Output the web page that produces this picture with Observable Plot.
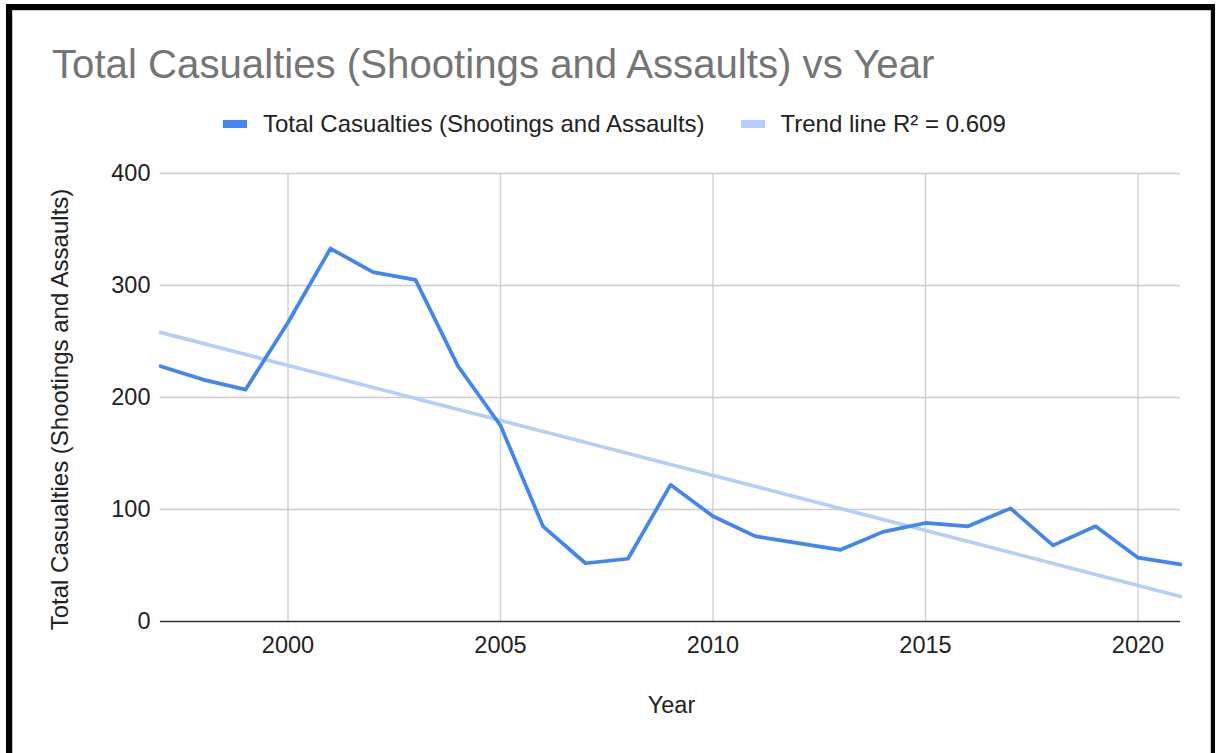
<!DOCTYPE html>
<html>
<head>
<meta charset="utf-8">
<script src="https://cdn.jsdelivr.net/npm/d3@7"></script>
<script src="https://cdn.jsdelivr.net/npm/@observablehq/plot@0.6"></script>
<style>
  html, body { margin: 0; padding: 0; background: #fff; overflow: hidden; }
  #page { position: relative; width: 1219px; height: 753px; font-family: "Liberation Sans", Arial, sans-serif; }
  #frame {
    position: absolute; left: 6px; top: 4px; width: 1209px; height: 760px;
    box-sizing: border-box;
    border-top: 6px solid #000; border-left: 6px solid #000; border-right: 4px solid #000;
    box-shadow: inset 1px 1px 0 #c8c8c8, inset -1px 0 0 #c8c8c8;
  }
  #title { position: absolute; left: 52px; top: 45px; font-size: 40.2px; line-height: 1; color: #757575; white-space: nowrap; }
  .sw { position: absolute; width: 24px; height: 8px; top: 120px; }
  .lt { position: absolute; top: 111.5px; font-size: 24px; line-height: 1; color: #222; white-space: nowrap; }
  #chart { position: absolute; left: 0; top: 150px; }
</style>
</head>
<body>
<div id="page">
  <div id="frame"></div>
  <div id="title"></div>
  <div id="legend"></div>
  <div id="chart"></div>
</div>
<script>
// Yearly totals of casualties from shootings and assaults
const years = [1997, 1998, 1999, 2000, 2001, 2002, 2003, 2004, 2005, 2006, 2007, 2008, 2009,
               2010, 2011, 2012, 2013, 2014, 2015, 2016, 2017, 2018, 2019, 2020, 2021];
const casualties = [228, 216, 207, 267, 333, 312, 305, 228, 175, 85, 52, 56, 122,
                    94, 76, 70, 64, 80, 88, 85, 101, 68, 85, 57, 51];
const xTicks = [2000, 2005, 2010, 2015, 2020];
const yTicks = [0, 100, 200, 300, 400];
const seriesName = "Total Casualties (Shootings and Assaults)";
const rSquared = 0.609;
const titleText = "Total Casualties (Shootings and Assaults) vs Year";
const xLabel = "Year";

const lineColor = "#4285f4";
const trendColor = "#b3cefb";

const data = years.map((year, i) => ({year, value: casualties[i]}));

document.getElementById("title").textContent = titleText;

// Legend
const legend = document.getElementById("legend");
const legendItems = [
  {swatchX: 222.7, textX: 263, color: lineColor, label: seriesName},
  {swatchX: 740.5, textX: 780.5, color: trendColor, label: `Trend line R² = ${rSquared}`}
];
for (const item of legendItems) {
  const sw = document.createElement("div");
  sw.className = "sw";
  sw.style.left = item.swatchX + "px";
  sw.style.background = item.color;
  legend.appendChild(sw);
  const t = document.createElement("div");
  t.className = "lt";
  t.style.left = item.textX + "px";
  t.textContent = item.label;
  legend.appendChild(t);
}

const chart = Plot.plot({
  width: 1219,
  height: 600,
  marginLeft: 160,
  marginRight: 39,
  marginTop: 23,
  marginBottom: 129,
  style: {fontFamily: "'Liberation Sans', Arial, sans-serif", fontSize: "23.5px", color: "#222", background: "transparent"},
  x: {domain: [1997, 2021]},
  y: {domain: [0, 400]},
  marks: [
    Plot.gridX(xTicks, {stroke: "#cccccc", strokeOpacity: 1, strokeWidth: 1.3}),
    Plot.gridY(yTicks.filter(d => d > 0), {stroke: "#cccccc", strokeOpacity: 1, strokeWidth: 1.3}),
    Plot.axisX(xTicks, {tickSize: 0, tickPadding: 15, tickFormat: d => String(d), label: null}),
    Plot.axisY(yTicks, {tickSize: 0, tickPadding: 10, label: null}),
    Plot.ruleY([0], {stroke: "#333", strokeWidth: 1.6}),
    Plot.linearRegressionY(data, {x: "year", y: "value", stroke: trendColor, strokeWidth: 3.7, ci: 0}),
    Plot.line(data, {x: "year", y: "value", stroke: lineColor, strokeWidth: 3.7, strokeLinejoin: "round"}),
    Plot.text([seriesName], {frameAnchor: "left", textAnchor: "middle", dx: -100, dy: 12, rotate: -90, fontSize: 24, fill: "#222"}),
    Plot.text([xLabel], {frameAnchor: "bottom", textAnchor: "middle", dx: 1, dy: 91, fontSize: 23.5, fill: "#222"})
  ]
});
document.getElementById("chart").appendChild(chart);
</script>
</body>
</html>
